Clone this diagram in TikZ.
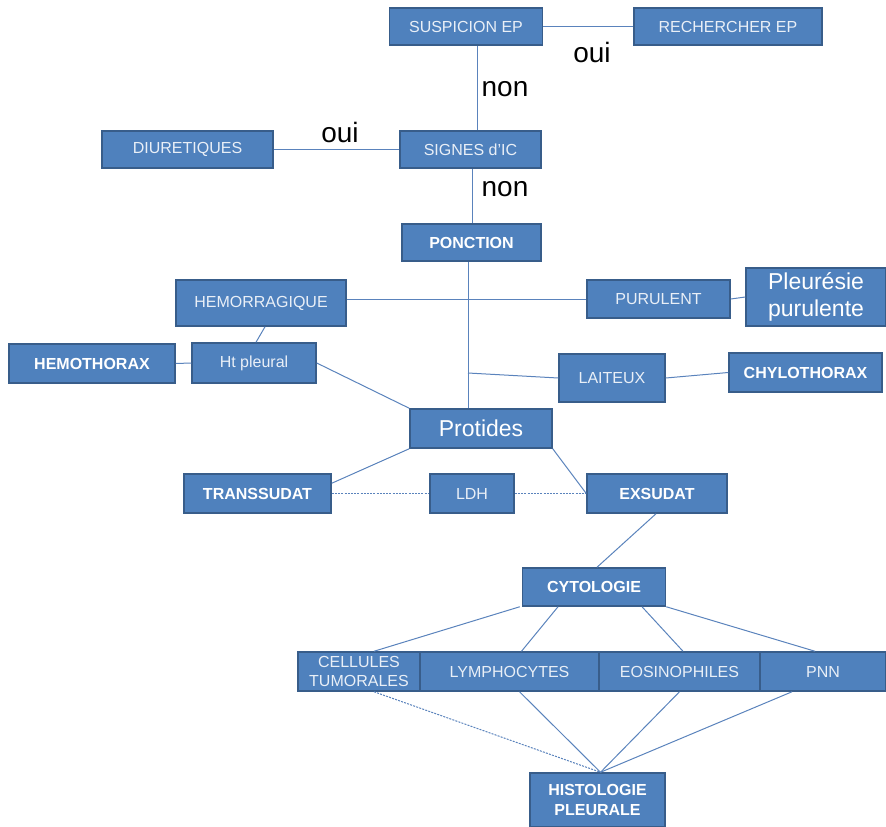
\documentclass[tikz,border=0pt]{standalone}
\usepackage{fontspec}
\setmainfont{Liberation Sans}
\usetikzlibrary{calc}
\definecolor{FlowFill}{HTML}{4F81BD}
\definecolor{FlowEdge}{HTML}{385D8A}
\definecolor{FlowLink}{HTML}{5A83BC}
\definecolor{FlowText}{HTML}{E9EFF7}
\tikzset{
  box/.style={draw=FlowEdge,fill=FlowFill,line width=1.5pt,inner sep=0pt,
    text=FlowText,align=center,font=\fontsize{16}{19}\selectfont},
  boldbox/.style={box,text=white,font=\bfseries\fontsize{16}{20}\selectfont},
  bigbox/.style={box,text=white,font=\fontsize{23}{27}\selectfont},
  link/.style={FlowLink,line width=1pt},
  dashlink/.style={link,dash pattern=on 2pt off 1.2pt},
  reply/.style={inner sep=0pt,text=black,font=\fontsize{28}{30}\selectfont}
}
\begin{document}
\begin{tikzpicture}[x=1pt,y=-1pt]
        \useasboundingbox (0,0) rectangle (886,827);

        \node[box,minimum width=153pt,minimum height=37pt] (susp) at (466,26.5) {SUSPICION EP};
        \node[box,minimum width=188pt,minimum height=37pt] (rech) at (728,26.5) {RECHERCHER EP};
        \node[box,minimum width=171pt,minimum height=37pt] (diur) at (187.5,149.5) {DIURETIQUES};
        \node[box,minimum width=141pt,minimum height=37pt] (signes) at (470.5,149.5) {SIGNES d'IC};
        \node[boldbox,minimum width=139pt,minimum height=37pt] (ponct) at (471.5,242.5) {PONCTION};

        \node[box,minimum width=170pt,minimum height=46pt] (hemor) at (261,303) {HEMORRAGIQUE};
        \node[box,minimum width=143pt,minimum height=38pt] (puru) at (658.5,299) {PURULENT};
        \node[bigbox,minimum width=140pt,minimum height=58pt] (pleur) at (816,297) {Pleurésie\\purulente};
        \node[boldbox,minimum width=166pt,minimum height=39pt] (hemoth) at (92,363.5) {HEMOTHORAX};
        \node[box,minimum width=124pt,minimum height=40pt] (htpl) at (254,363) {Ht pleural};
        \node[box,minimum width=106pt,minimum height=48pt] (lait) at (612,378) {LAITEUX};
        \node[boldbox,minimum width=153pt,minimum height=39pt] (chylo) at (805.5,372.5) {CHYLOTHORAX};
        \node[bigbox,minimum width=142pt,minimum height=39pt] (prot) at (481,428.5) {Protides};

        \node[boldbox,minimum width=147pt,minimum height=39pt] (trans) at (257.5,493.5) {TRANSSUDAT};
        \node[box,minimum width=84pt,minimum height=39pt] (ldh) at (472,493.5) {LDH};
        \node[boldbox,minimum width=140pt,minimum height=39pt] (exsu) at (657,493.5) {EXSUDAT};
        \node[boldbox,minimum width=143pt,minimum height=38pt] (cyto) at (594,587) {CYTOLOGIE};

        \node[box,minimum width=122pt,minimum height=39pt,font=\fontsize{16}{19}\selectfont] (cell) at (359,671.5) {CELLULES\\TUMORALES};
        \node[box,minimum width=179pt,minimum height=39pt] (lymph) at (509.5,671.5) {LYMPHOCYTES};
        \node[box,minimum width=161pt,minimum height=39pt] (eosi) at (679.5,671.5) {EOSINOPHILES};
        \node[box,minimum width=126pt,minimum height=39pt] (pnn) at (823,671.5) {PNN};
        \node[boldbox,minimum width=135pt,minimum height=54pt] (hist) at (597.5,800) {HISTOLOGIE\\PLEURALE};

        % oui / non
        \node[reply] (oui1) at (592,52) {oui};
        \node[reply] (non1) at (505,89) {non};
        \node[reply] (oui2) at (340,132) {oui};
        \node[reply] (non2) at (505,189) {non};

        % connectors
        \draw[link] (susp.east) -- (rech.west);
        \draw[link] ([xshift=11pt]susp.south) -- ([xshift=6.5pt]signes.north);
        \draw[link] (diur.east) -- (signes.west);
        \draw[link] ([xshift=1.5pt]signes.south) -- ([xshift=0.5pt]ponct.north);
        \draw[link] ([xshift=-3.5pt]ponct.south) -- ([xshift=-3.5pt]ponct.south |- prot.north);
        \coordinate (laitjoin) at ([xshift=-3.5pt,yshift=5pt]ponct.south |- lait.west);
        \draw[link] (laitjoin) -- (lait.west);
        \draw[link] (lait.east) -- (chylo.west);
        \draw[link] (hemor.east |- puru.west) -- (puru.west);
        \draw[link] (puru.east) -- (pleur.west);
        \draw[link] ([xshift=4pt]hemor.south) -- ([xshift=2pt]htpl.north);
        \draw[link] (hemoth.east) -- (htpl.west);
        \draw[link] (htpl.east) -- (prot.north west);

        \draw[link] (prot.south west) -- ([yshift=-10pt]trans.north east);
        \draw[link] (prot.south east) -- (exsu.west);
        \draw[dashlink] (trans.east) -- (ldh.west);
        \draw[dashlink] (ldh.east) -- (exsu.west);
        \draw[link] ([xshift=-1pt]exsu.south) -- ([xshift=3pt]cyto.north);

        \draw[link] ([xshift=-2pt]cyto.south west) -- ([xshift=15pt]cell.north);
        \draw[link] ([xshift=-36pt]cyto.south) -- ([xshift=12pt]lymph.north);
        \draw[link] ([xshift=48pt]cyto.south) -- ([xshift=3.5pt]eosi.north);
        \draw[link] (cyto.south east) -- ([xshift=-8pt]pnn.north);

        \draw[dashlink] ([xshift=15pt]cell.south) -- ([xshift=3pt]hist.north);
        \draw[link] ([xshift=10pt]lymph.south) -- ([xshift=3pt]hist.north);
        \draw[link] (eosi.south) -- ([xshift=3pt]hist.north);
        \draw[link] ([xshift=-31pt]pnn.south) -- ([xshift=3pt]hist.north);
\end{tikzpicture}
\end{document}
